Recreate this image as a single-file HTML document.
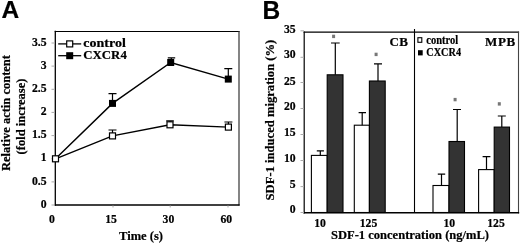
<!DOCTYPE html>
<html>
<head>
<meta charset="utf-8">
<title>Figure</title>
<style>
html,body{margin:0;padding:0;background:#fff;}
body{width:520px;height:244px;overflow:hidden;font-family:"Liberation Serif",serif;}
svg{display:block;filter:blur(0.35px);}
text{font-family:"Liberation Serif",serif;font-weight:bold;fill:#000;stroke:#000;stroke-width:0.2px;}
.pl{font-family:"Liberation Sans",sans-serif;font-weight:bold;font-size:24.5px;}
.tk{font-size:11.7px;}
.tt{font-size:12.5px;}
.lg{font-size:12.5px;}
</style>
</head>
<body>
<svg width="520" height="244" viewBox="0 0 520 244">
<rect x="0" y="0" width="520" height="244" fill="#fff"/>

<!-- ================= Panel A ================= -->
<text class="pl" x="1.5" y="18">A</text>

<!-- frame -->
<g fill="none" stroke-linecap="square">
<line x1="55.3" y1="31.5" x2="239" y2="31.5" stroke="#000" stroke-width="1.1"/>
<line x1="239" y1="31.5" x2="239" y2="205" stroke="#333" stroke-width="1.2"/>
<line x1="55.3" y1="31.5" x2="55.3" y2="205" stroke="#000" stroke-width="1.3"/>
<line x1="55.3" y1="205" x2="239" y2="205" stroke="#000" stroke-width="1.3"/>
</g>

<!-- y ticks -->
<g stroke="#aaa" stroke-width="1">
<line x1="51.5" y1="43" x2="55" y2="43"/>
<line x1="51.5" y1="66.1" x2="55" y2="66.1"/>
<line x1="51.5" y1="89.3" x2="55" y2="89.3"/>
<line x1="51.5" y1="112.4" x2="55" y2="112.4"/>
<line x1="51.5" y1="135.6" x2="55" y2="135.6"/>
<line x1="51.5" y1="158.7" x2="55" y2="158.7"/>
<line x1="51.5" y1="181.9" x2="55" y2="181.9"/>
<line x1="51.5" y1="205" x2="55" y2="205"/>
</g>

<g stroke="#aaa" stroke-width="1">
<line x1="113" y1="205.5" x2="113" y2="207.5"/>
<line x1="170.2" y1="205.5" x2="170.2" y2="207.5"/>
<line x1="228" y1="205.5" x2="228" y2="207.5"/>
</g>
<!-- y tick labels -->
<g class="tk" text-anchor="end">
<text x="46.5" y="46.2">3.5</text>
<text x="46.5" y="69.2">3</text>
<text x="46.5" y="92.3">2.5</text>
<text x="46.5" y="115.3">2</text>
<text x="46.5" y="138.4">1.5</text>
<text x="46.5" y="161.4">1</text>
<text x="46.5" y="184.5">0.5</text>
<text x="46.5" y="207.5">0</text>
</g>

<!-- x tick labels -->
<g class="tk" text-anchor="middle">
<text x="51.8" y="223.1">0</text>
<text x="111" y="223.1">15</text>
<text x="168.4" y="223.1">30</text>
<text x="226.3" y="223.1">60</text>
</g>

<!-- axis titles -->
<text class="tt" x="141" y="240" text-anchor="middle">Time (s)</text>
<text class="tt" transform="translate(10.1,113) rotate(-90)" text-anchor="middle">Relative actin content</text>
<text class="tt" transform="translate(24.5,116.5) rotate(-90)" text-anchor="middle">(fold increase)</text>

<!-- error bars -->
<g stroke="#000" stroke-width="1.2" fill="none">
<path d="M112.5 103.4V93.6M108.5 93.6H116.5"/>
<path d="M171.3 62.2V57.9M167.8 57.9H175.2"/>
<path d="M228.3 79.1V68.7M224.3 68.7H232.3"/>
<path d="M112.5 135.9V130M108.5 130H116.5"/>
<path d="M170 124.8V120.8M166.2 120.8H173.8"/>
<path d="M228.4 127.1V122M224.4 122H232.4"/>
</g>

<!-- lines -->
<g stroke="#000" stroke-width="1.4" fill="none">
<polyline points="55.5,158.8 112.5,103.4 170.7,62.5 228.3,79.1"/>
<polyline points="55.5,158.8 112.5,135.9 170,124.8 228.4,127.1"/>
</g>

<!-- markers CXCR4 -->
<g fill="#000" stroke="none">
<rect x="109" y="99.9" width="7" height="7"/>
<rect x="167.2" y="59" width="7" height="7"/>
<rect x="224.8" y="75.6" width="7" height="7"/>
</g>
<!-- markers control -->
<g fill="#fff" stroke="#000" stroke-width="1.2">
<rect x="52.5" y="155.8" width="6" height="6"/>
<rect x="109.5" y="132.9" width="6" height="6"/>
<rect x="167" y="121.8" width="6" height="6"/>
<rect x="225.4" y="124.1" width="6" height="6"/>
</g>

<!-- legend -->
<g stroke="#000" stroke-width="1.3">
<line x1="58.2" y1="43.9" x2="81.2" y2="43.9"/>
<line x1="58.2" y1="55.7" x2="81.2" y2="55.7"/>
</g>
<rect x="66.7" y="40.9" width="6" height="6" fill="#fff" stroke="#000" stroke-width="1.2"/>
<rect x="66.2" y="52.2" width="7" height="7" fill="#000"/>
<text class="lg" x="83.3" y="47.4" textLength="42.5" lengthAdjust="spacingAndGlyphs">control</text>
<text class="lg" x="83.3" y="59.4" textLength="43.5" lengthAdjust="spacingAndGlyphs">CXCR4</text>

<!-- ================= Panel B ================= -->
<text class="pl" transform="translate(262.4,18.9) scale(1,1.06)">B</text>

<!-- bars -->
<g stroke="#000" stroke-width="1.1">
<rect x="311.4" y="155.4" width="15.8" height="57.1" fill="#fff"/>
<rect x="327.2" y="74.8" width="15.8" height="137.7" fill="#333"/>
<rect x="354.3" y="125.2" width="15.1" height="87.3" fill="#fff"/>
<rect x="369.4" y="81" width="15.8" height="131.5" fill="#333"/>
<rect x="433" y="185.5" width="16" height="27" fill="#fff"/>
<rect x="449" y="141.5" width="15.5" height="71" fill="#333"/>
<rect x="478.6" y="169.6" width="15.6" height="42.9" fill="#fff"/>
<rect x="494.2" y="127.1" width="15.3" height="85.4" fill="#333"/>
</g>

<!-- error bars -->
<g stroke="#000" stroke-width="1.2" fill="none">
<path d="M320.3 155.4V150.8M316.8 150.8H323.9"/>
<path d="M335.3 74.8V43M331 43H339.7"/>
<path d="M362.2 125.3V112.7M358.6 112.7H366"/>
<path d="M378 81V63.9M374 63.9H382"/>
<path d="M441.5 185.5V174.2M437.8 174.2H445.2"/>
<path d="M457.2 141.5V109.5M453 109.5H461"/>
<path d="M486.5 169.6V156.6M482.6 156.6H490.4"/>
<path d="M501.8 127.1V116M497.8 116H505.8"/>
</g>

<!-- asterisks -->
<g fill="#777">
<rect x="332.1" y="34.7" width="3" height="3.4"/>
<rect x="374.6" y="52.7" width="3" height="3.4"/>
<rect x="453.6" y="97.9" width="3" height="3.4"/>
<rect x="497.8" y="102.2" width="3" height="3.4"/>
</g>

<!-- frame -->
<g fill="none" stroke-linecap="square">
<line x1="304.2" y1="32.2" x2="518.5" y2="32.2" stroke="#000" stroke-width="1.2"/>
<line x1="518.5" y1="32.2" x2="518.5" y2="212.8" stroke="#444" stroke-width="1.1"/>
<line x1="304.2" y1="32.2" x2="304.2" y2="212.8" stroke="#000" stroke-width="1.2"/>
<line x1="304.2" y1="212.8" x2="518.5" y2="212.8" stroke="#000" stroke-width="1.4"/>
</g>
<line x1="414.5" y1="29" x2="414.5" y2="212.5" stroke="#000" stroke-width="1.1"/>

<!-- y ticks -->
<g stroke="#aaa" stroke-width="1">
<line x1="300.5" y1="30.8" x2="304" y2="30.8"/>
<line x1="300.5" y1="57.3" x2="304" y2="57.3"/>
<line x1="300.5" y1="82.5" x2="304" y2="82.5"/>
<line x1="300.5" y1="108.5" x2="304" y2="108.5"/>
<line x1="300.5" y1="134.5" x2="304" y2="134.5"/>
<line x1="300.5" y1="160.5" x2="304" y2="160.5"/>
<line x1="300.5" y1="186.6" x2="304" y2="186.6"/>
<line x1="300.5" y1="212.5" x2="304" y2="212.5"/>
</g>

<!-- y tick labels -->
<g class="tk" text-anchor="end">
<text x="295.6" y="32.9">35</text>
<text x="295.6" y="58.2">30</text>
<text x="295.6" y="84.6">25</text>
<text x="295.6" y="110.2">20</text>
<text x="295.6" y="136.2">15</text>
<text x="295.6" y="162.4">10</text>
<text x="295.6" y="188.3">5</text>
<text x="295.6" y="213">0</text>
</g>

<!-- x tick labels -->
<g class="tk" text-anchor="middle">
<text x="320" y="227.2">10</text>
<text x="368.5" y="227.2">125</text>
<text x="449.3" y="227.2">10</text>
<text x="496" y="227.2">125</text>
</g>

<!-- titles -->
<text class="tt" x="331" y="239.4" textLength="158" lengthAdjust="spacingAndGlyphs">SDF-1 concentration (ng/mL)</text>
<text class="tt" transform="translate(274,200.4) rotate(-90)" textLength="160.7" lengthAdjust="spacingAndGlyphs">SDF-1 induced migration (%)</text>

<text class="tt" style="font-size:13px" x="389.6 399.2" y="45.5">CB</text>
<text class="tt" style="font-size:13px" x="485.1 498.1 506.4" y="45.5">MPB</text>

<!-- legend B -->
<rect x="417.9" y="37.7" width="3.9" height="4.6" fill="#fff" stroke="#000" stroke-width="1.1"/>
<rect x="418" y="50.2" width="4.7" height="5.2" fill="#000"/>
<text x="426.3" y="43.7" font-size="11.5" textLength="31.8" lengthAdjust="spacingAndGlyphs">control</text>
<text x="426.3" y="56.3" font-size="11.5" textLength="34.8" lengthAdjust="spacingAndGlyphs">CXCR4</text>
</svg>
</body>
</html>
